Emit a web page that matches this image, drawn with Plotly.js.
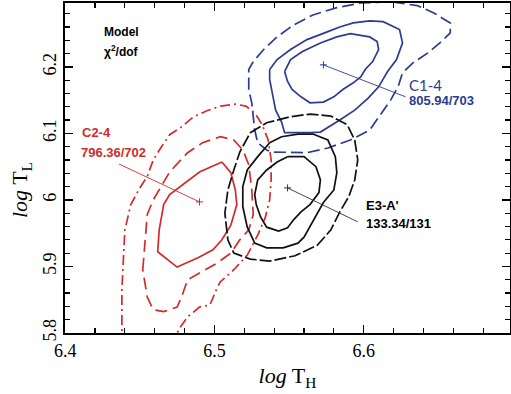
<!DOCTYPE html>
<html>
<head>
<meta charset="utf-8">
<script src="https://cdn.plot.ly/plotly-3.0.1.min.js"></script>
<style>html,body{margin:0;padding:0;background:#fff;}#chart{width:511px;height:394px;}</style>
</head>
<body>
<div id="chart"></div>
<script>
// ---- C1-4 (blue) confidence contours ----
const c1_inner_x = [6.547,6.551,6.559,6.571,6.582,6.591,6.604,6.609,6.610,6.606,6.601,6.598,6.593,6.586,6.580,6.573,6.564,6.558,6.552,6.549,6.547];
const c1_inner_y = [6.193,6.211,6.223,6.236,6.245,6.250,6.245,6.238,6.226,6.208,6.196,6.185,6.176,6.166,6.155,6.147,6.146,6.155,6.166,6.178,6.193];
const c1_mid_x = [6.537,6.542,6.551,6.562,6.576,6.584,6.593,6.604,6.613,6.624,6.626,6.624,6.622,6.616,6.610,6.603,6.594,6.584,6.571,6.564,6.547,6.545,6.541,6.539,6.537,6.537];
const c1_mid_y = [6.196,6.211,6.226,6.241,6.253,6.260,6.266,6.269,6.268,6.256,6.236,6.223,6.211,6.193,6.170,6.153,6.135,6.120,6.102,6.101,6.101,6.117,6.135,6.158,6.181,6.196];
const c1_outer_x = [6.523,6.523,6.526,6.533,6.542,6.553,6.566,6.582,6.598,6.618,6.636,6.647,6.658,6.658,6.651,6.643,6.633,6.626,6.623,6.618,6.604,6.591,6.576,6.562,6.539,6.535,6.529,6.527,6.525,6.523];
const c1_outer_y = [6.166,6.196,6.208,6.226,6.245,6.263,6.278,6.289,6.296,6.298,6.292,6.281,6.266,6.251,6.236,6.221,6.206,6.191,6.170,6.150,6.105,6.090,6.078,6.071,6.072,6.075,6.086,6.105,6.146,6.166];

// ---- C2-4 (red) confidence contours ----
const c2_inner_x = [6.505,6.511,6.514,6.515,6.511,6.505,6.499,6.489,6.475,6.462,6.463,6.466,6.470,6.479,6.490,6.505];
const c2_inner_y = [6.057,6.041,6.015,5.993,5.962,5.940,5.925,5.913,5.899,5.922,5.955,5.993,6.008,6.023,6.042,6.057];
const c2_mid_x = [6.452,6.454,6.455,6.459,6.464,6.470,6.482,6.492,6.504,6.513,6.519,6.523,6.525,6.526,6.523,6.517,6.511,6.501,6.490,6.482,6.478,6.475,6.466,6.459,6.455,6.452];
const c2_mid_y = [5.895,5.955,5.978,6.000,6.020,6.042,6.071,6.086,6.095,6.090,6.075,6.053,6.015,5.978,5.955,5.940,5.920,5.904,5.890,5.880,5.854,5.839,5.832,5.835,5.854,5.895];
const c2_outer_x = [6.438,6.438,6.439,6.440,6.444,6.450,6.455,6.459,6.464,6.470,6.477,6.486,6.495,6.504,6.514,6.521,6.527,6.532,6.536,6.538,6.538,6.537,6.534,6.529,6.522,6.513,6.504,6.502,6.497,6.490,6.482,6.476,6.472];
const c2_outer_y = [5.782,5.865,5.910,5.955,5.993,6.018,6.035,6.060,6.078,6.098,6.108,6.125,6.134,6.141,6.144,6.141,6.131,6.113,6.090,6.060,6.030,6.000,5.973,5.947,5.917,5.895,5.877,5.869,5.842,5.839,5.824,5.805,5.782];

// ---- E3-A' (black) confidence contours ----
const e3_inner_x = [6.549,6.560,6.568,6.571,6.570,6.564,6.558,6.553,6.549,6.543,6.535,6.531,6.528,6.527,6.529,6.535,6.542,6.549];
const e3_inner_y = [6.065,6.065,6.050,6.030,6.011,5.993,5.982,5.970,5.958,5.953,5.959,5.974,5.993,6.008,6.030,6.045,6.057,6.065];
const e3_mid_x = [6.537,6.545,6.556,6.566,6.576,6.581,6.582,6.580,6.573,6.569,6.564,6.560,6.556,6.546,6.535,6.527,6.522,6.519,6.519,6.522,6.529,6.537];
const e3_mid_y = [6.086,6.095,6.099,6.099,6.090,6.065,6.041,6.015,5.996,5.980,5.959,5.944,5.935,5.928,5.928,5.935,5.959,5.990,6.020,6.045,6.065,6.086];
const e3_outer_x = [6.524,6.535,6.551,6.564,6.578,6.589,6.594,6.596,6.594,6.590,6.584,6.578,6.569,6.554,6.537,6.524,6.513,6.509,6.507,6.509,6.513,6.517,6.524];
const e3_outer_y = [6.101,6.116,6.125,6.129,6.126,6.113,6.090,6.060,6.030,6.005,5.982,5.955,5.932,5.916,5.908,5.911,5.920,5.940,5.980,6.015,6.045,6.072,6.101];

// ---- best-fit points and label pointers ----
const models = ["C1-4", "C2-4", "E3-A'"];
const chi2dof = ["805.94/703", "796.36/702", "133.34/131"];
const bestX = [6.573, 6.490, 6.549];
const bestY = [6.203, 5.997, 6.018];
const pointerX = [6.628, 6.436, 6.596];
const pointerY = [6.155, 6.054, 5.967];

const BLUE = '#2b3c92', RED = '#d22b2b', BLACK = '#111111', GREY = '#333333';

function line(x, y, color, dash, width) {
  return {type:'scatter', mode:'lines', x:x, y:y, hoverinfo:'skip', showlegend:false,
          line:{color:color, width:width||1.7, dash:dash||'solid', shape:'linear'}};
}
const traces = [
  line(c1_outer_x, c1_outer_y, BLUE, '12px,5px'),
  line(c1_mid_x, c1_mid_y, BLUE, 'solid'),
  line(c1_inner_x, c1_inner_y, BLUE, 'solid'),
  line(c2_outer_x, c2_outer_y, RED, '10px,4px,2px,4px'),
  line(c2_mid_x, c2_mid_y, RED, '12px,6px'),
  line(c2_inner_x, c2_inner_y, RED, 'solid'),
  line(e3_outer_x, e3_outer_y, BLACK, '12px,3px'),
  line(e3_mid_x, e3_mid_y, BLACK, 'solid'),
  line(e3_inner_x, e3_inner_y, BLACK, 'solid')
];
const ptrColors = [BLUE, RED, GREY];
for (let i = 0; i < models.length; i++) {
  traces.push(line([bestX[i], pointerX[i]], [bestY[i], pointerY[i]], ptrColors[i], 'solid', 0.9));
  traces.push({type:'scatter', mode:'markers', x:[bestX[i]], y:[bestY[i]], hoverinfo:'skip', showlegend:false,
               marker:{symbol:'cross-thin', size:5, line:{color:ptrColors[i], width:1}}});
}

const serif = 'Liberation Serif, Times New Roman, serif';
const sans = 'Liberation Sans, Arial, sans-serif';
function axis(extra) {
  return Object.assign({
    showgrid:false, zeroline:false, showline:true, linecolor:'#000', linewidth:2, mirror:'ticks',
    ticks:'inside', ticklen:8, tickwidth:1.5, tickcolor:'#000', dtick:0.1,
    minor:{dtick:0.02, ticks:'inside', ticklen:5, tickwidth:1.2, tickcolor:'#000'},
    tickfont:{family:serif, size:18, color:'#000'}
  }, extra);
}
const layout = {
  width:511, height:394,
  margin:{l:65, r:1, t:3, b:61},
  paper_bgcolor:'#fff', plot_bgcolor:'#fff',
  xaxis: axis({range:[6.3999, 6.698], tick0:6.4,
    title:{text:'<i>log</i> T<sub>H</sub>', font:{family:serif, size:22, color:'#000'}, standoff:8}}),
  yaxis: axis({range:[5.7999, 6.296], tick0:5.8, tickangle:-90,
    title:{text:'<i>log</i> T<sub>L</sub>&nbsp;&nbsp;&nbsp;&nbsp;&nbsp;&nbsp;&nbsp;&nbsp;', font:{family:serif, size:22, color:'#000'}, standoff:6}}),
  annotations:[
    {x:6.425, y:6.253, text:'<b>Model</b>', showarrow:false, xanchor:'left', font:{family:sans, size:12, color:'#000'}},
    {x:6.425, y:6.224, text:'<b>χ<sup>2</sup>/dof</b>', showarrow:false, xanchor:'left', font:{family:sans, size:12, color:'#000'}},
    {x:6.629, y:6.173, text:models[0], showarrow:false, xanchor:'left', font:{family:'Lato, Open Sans, sans-serif', size:15, color:BLUE}},
    {x:6.629, y:6.150, text:'<b>'+chi2dof[0]+'</b>', showarrow:false, xanchor:'left', font:{family:sans, size:13, color:BLUE}},
    {x:6.410, y:6.101, text:'<b>'+models[1]+'</b>', showarrow:false, xanchor:'left', font:{family:sans, size:13, color:RED}},
    {x:6.409, y:6.071, text:'<b>'+chi2dof[1]+'</b>', showarrow:false, xanchor:'left', font:{family:sans, size:13, color:RED}},
    {x:6.600, y:5.992, text:'<b>'+models[2]+'</b>', showarrow:false, xanchor:'left', font:{family:sans, size:13, color:'#000'}},
    {x:6.600, y:5.964, text:'<b>'+chi2dof[2]+'</b>', showarrow:false, xanchor:'left', font:{family:sans, size:13, color:'#000'}}
  ]
};
Plotly.newPlot('chart', traces, layout, {staticPlot:true, displayModeBar:false});
</script>
</body>
</html>
